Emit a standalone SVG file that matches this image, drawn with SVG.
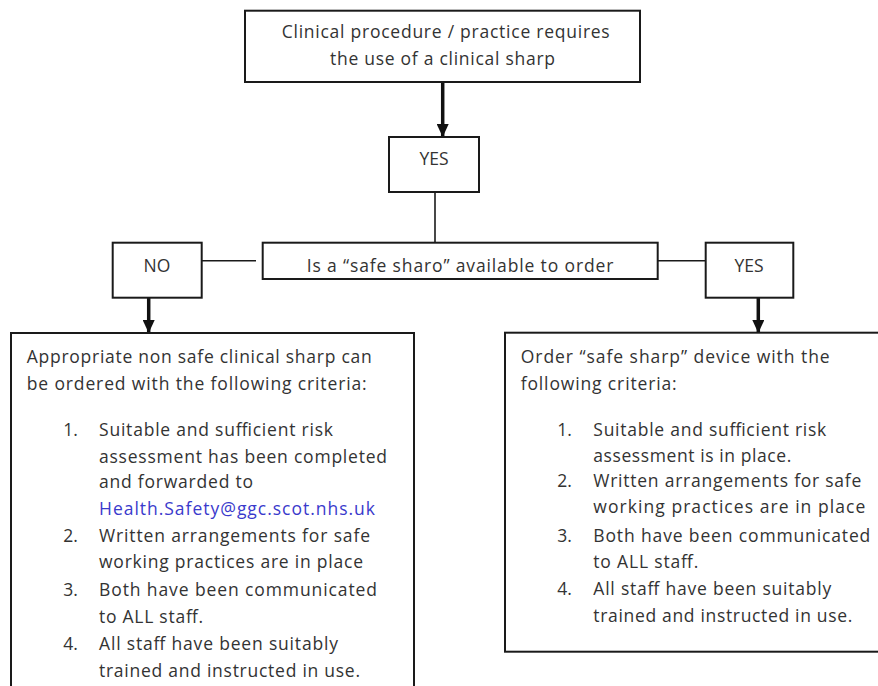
<svg xmlns="http://www.w3.org/2000/svg" width="878" height="686" viewBox="0 0 878 686">
<defs>
<style>
.box{fill:#fff;stroke:#1a1a1a;stroke-width:2}
.t{font-family:"Open Sans","Liberation Sans",sans-serif;font-size:17.5px;fill:#333}
.c{text-anchor:middle}
.link{fill:#3a3acc}
.thin{stroke:#1a1a1a;stroke-width:1.6;fill:none}
.thick{stroke:#111;stroke-width:3.5;fill:none}
</style>
<marker id="ah" markerUnits="userSpaceOnUse" markerWidth="14" markerHeight="12" refX="13" refY="6" orient="auto">
<path d="M0,0 L13,6 L0,12 Z" fill="#111"/>
</marker>
</defs>
<rect width="878" height="686" fill="#fff"/>
<g id="connectors">
<line class="thick" x1="442.7" y1="82" x2="442.7" y2="137" marker-end="url(#ah)"/>
<line class="thin" x1="435" y1="192" x2="435" y2="243"/>
<line class="thin" x1="201.7" y1="260.7" x2="256" y2="260.7"/>
<line class="thin" x1="651" y1="260.7" x2="705.7" y2="260.7"/>
<line class="thick" x1="148.7" y1="297.7" x2="148.7" y2="333" marker-end="url(#ah)"/>
<line class="thick" x1="758.3" y1="297.7" x2="758.3" y2="333" marker-end="url(#ah)"/>
</g>
<g id="start">
<rect class="box" x="245" y="10.7" width="395" height="71.3"/>
<text class="t" x="281.7" y="38.3" textLength="328">Clinical procedure / practice requires</text>
<text class="t" x="330" y="65" textLength="225">the use of a clinical sharp</text>
</g>
<g id="yes-top">
<rect class="box" x="389" y="137" width="90" height="55"/>
<text class="t c" x="434" y="165">YES</text>
</g>
<g id="question">
<rect class="box" x="262.7" y="242.7" width="395" height="36.3"/>
<text class="t" x="306.7" y="271.5" textLength="306.6">Is a “safe sharo” available to order</text>
</g>
<g id="no">
<rect class="box" x="112.7" y="242.7" width="89" height="55"/>
<text class="t c" x="157" y="271.5">NO</text>
</g>
<g id="yes-right">
<rect class="box" x="705.7" y="242.7" width="87.6" height="55"/>
<text class="t c" x="749" y="271.5">YES</text>
</g>
<g id="non-safe">
<rect class="box" x="11" y="333" width="403" height="380"/>
<text class="t" x="26.7" y="362.7" textLength="345">Appropriate non safe clinical sharp can</text>
<text class="t" x="26.7" y="390" textLength="340">be ordered with the following criteria:</text>
<text class="t" x="63.3" y="436">1.</text>
<text class="t" x="99" y="436" textLength="234">Suitable and sufficient risk</text>
<text class="t" x="99" y="462.7" textLength="288">assessment has been completed</text>
<text class="t" x="99" y="488.3" textLength="154">and forwarded to</text>
<text class="t link" x="99" y="515" textLength="276">Health.Safety@ggc.scot.nhs.uk</text>
<text class="t" x="63.3" y="541.7">2.</text>
<text class="t" x="99" y="541.7" textLength="271">Written arrangements for safe</text>
<text class="t" x="99" y="568.3" textLength="264">working practices are in place</text>
<text class="t" x="63.3" y="596">3.</text>
<text class="t" x="99" y="596" textLength="278">Both have been communicated</text>
<text class="t" x="99" y="622.7" textLength="104">to ALL staff.</text>
<text class="t" x="63.3" y="650">4.</text>
<text class="t" x="99" y="650" textLength="239">All staff have been suitably</text>
<text class="t" x="99" y="676.7" textLength="261">trained and instructed in use.</text>
</g>
<g id="safe">
<rect class="box" x="505" y="332.7" width="385" height="319"/>
<text class="t" x="520.7" y="362.7" textLength="309">Order “safe sharp” device with the</text>
<text class="t" x="520.7" y="390" textLength="156">following criteria:</text>
<text class="t" x="557.3" y="436">1.</text>
<text class="t" x="593.3" y="436" textLength="233">Suitable and sufficient risk</text>
<text class="t" x="593.3" y="461.7" textLength="198">assessment is in place.</text>
<text class="t" x="557.3" y="487.3">2.</text>
<text class="t" x="593.3" y="487.3" textLength="268">Written arrangements for safe</text>
<text class="t" x="593.3" y="513.3" textLength="272">working practices are in place</text>
<text class="t" x="557.3" y="541.7">3.</text>
<text class="t" x="593.3" y="541.7" textLength="277">Both have been communicated</text>
<text class="t" x="593.3" y="568.3" textLength="105">to ALL staff.</text>
<text class="t" x="557.3" y="595">4.</text>
<text class="t" x="593.3" y="595" textLength="238">All staff have been suitably</text>
<text class="t" x="593.3" y="621.7" textLength="259">trained and instructed in use.</text>
</g>
</svg>
